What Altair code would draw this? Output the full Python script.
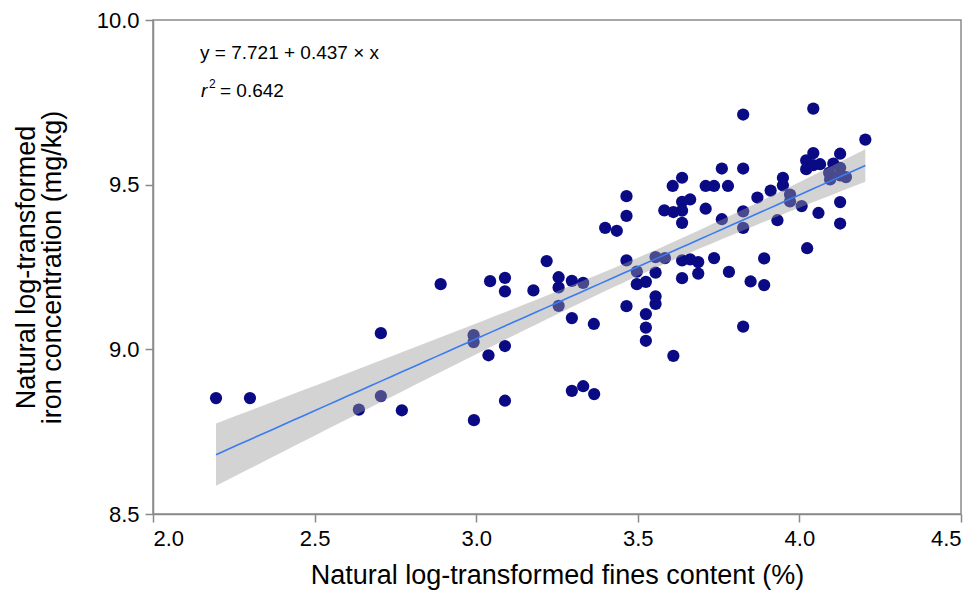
import numpy as np
import pandas as pd
import altair as alt

# Natural log-transformed fines content (%)
fines = [2.195, 2.300, 2.637, 2.705, 2.705, 2.770, 2.890, 2.992, 2.992, 2.993,
         3.038, 3.043, 3.089, 3.089, 3.089, 3.089, 3.177, 3.218, 3.255, 3.255,
         3.255, 3.296, 3.331, 3.296, 3.364, 3.296, 3.331, 3.365, 3.399, 3.435,
         3.465, 3.465, 3.465, 3.465, 3.497, 3.497, 3.525, 3.525, 3.525, 3.525,
         3.555, 3.584, 3.555, 3.555, 3.555, 3.610, 3.582, 3.610, 3.637, 3.662,
         3.637, 3.637, 3.608, 3.637, 3.710, 3.736, 3.779, 3.760, 3.710, 3.760,
         3.637, 3.662, 3.687, 3.736, 3.637, 3.687, 3.782, 3.826, 3.826, 3.826,
         3.826, 3.826, 3.849, 3.891, 3.891, 3.870, 3.911, 3.949, 3.949, 3.971,
         3.971, 4.007, 3.932, 4.059, 4.024, 4.043, 4.204, 4.043, 4.126, 4.021,
         4.021, 4.043, 4.064, 4.105, 4.092, 4.126, 4.095, 4.126, 4.144, 4.126,
         4.126]
# Natural log-transformed iron concentration (mg/kg)
iron = [8.852, 8.852, 8.817, 9.049, 8.858, 8.815, 9.198, 9.043, 9.022, 8.785,
        8.982, 9.207, 9.217, 9.176, 9.010, 8.844, 9.179, 9.268, 9.219, 9.188,
        9.132, 9.208, 9.202, 9.095, 9.077, 8.874, 8.888, 8.864, 9.369, 9.360,
        9.465, 9.405, 9.270, 9.131, 9.236, 9.198, 9.205, 9.107, 9.066, 9.026,
        9.280, 9.277, 9.233, 9.161, 9.138, 8.980, 9.422, 9.417, 9.448, 9.455,
        9.421, 9.384, 9.496, 9.521, 9.496, 9.496, 9.496, 9.549, 9.427, 9.395,
        9.270, 9.273, 9.265, 9.277, 9.216, 9.230, 9.235, 9.713, 9.549, 9.419,
        9.369, 9.069, 9.206, 9.276, 9.195, 9.461, 9.482, 9.521, 9.498, 9.470,
        9.449, 9.435, 9.392, 9.414, 9.307, 9.731, 9.637, 9.596, 9.594, 9.574,
        9.547, 9.559, 9.562, 9.564, 9.536, 9.551, 9.516, 9.528, 9.523, 9.447,
        9.382]

intercept = 7.721
slope = 0.437
r2_text = "= 0.642"
eq_text = "y = 7.721 + 0.437 \u00d7 x"

pts = pd.DataFrame({"x": fines, "y": iron})

# Regression line and 95% confidence band derived from the data
xa = np.array(fines)
ya = np.array(iron)
n = len(xa)
resid = ya - (intercept + slope * xa)
s = np.sqrt(np.sum(resid ** 2) / (n - 2))
xbar = xa.mean()
sxx = np.sum((xa - xbar) ** 2)
tval = 1.984
grid = np.linspace(xa.min(), xa.max(), 60)
fit = intercept + slope * grid
half = tval * s * np.sqrt(1.0 / n + (grid - xbar) ** 2 / sxx)
band = pd.DataFrame({"x": grid, "fit": fit, "lo": fit - half, "hi": fit + half})

xscale = alt.Scale(domain=[2.0, 4.5], nice=False, zero=False)
yscale = alt.Scale(domain=[8.5, 10.0], nice=False, zero=False)

xaxis = alt.Axis(values=[2.0, 2.5, 3.0, 3.5, 4.0, 4.5], format=".1f",
                 title="Natural log-transformed fines content (%)",
                 labelPadding=6, titlePadding=13)
yaxis = alt.Axis(values=[8.5, 9.0, 9.5, 10.0], format=".1f",
                 title=["Natural log-transformed", "iron concentration (mg/kg)"],
                 labelPadding=6, titlePadding=30)

points = alt.Chart(pts).mark_circle(size=150, color="#0a0a85", opacity=1).encode(
    x=alt.X("x:Q", scale=xscale, axis=xaxis),
    y=alt.Y("y:Q", scale=yscale, axis=yaxis),
)

band_layer = alt.Chart(band).mark_area(color="#9b9b9b", opacity=0.44).encode(
    x=alt.X("x:Q", scale=xscale),
    y=alt.Y("lo:Q", scale=yscale),
    y2="hi:Q",
)

line_layer = alt.Chart(band).mark_line(color="#3a7bf0", strokeWidth=1.6).encode(
    x=alt.X("x:Q", scale=xscale),
    y=alt.Y("fit:Q", scale=yscale),
)

font = "Liberation Sans"
eq = alt.Chart(pd.DataFrame({"t": [eq_text]})).mark_text(
    align="left", baseline="alphabetic", fontSize=19, font=font, color="black"
).encode(x=alt.value(47), y=alt.value(39), text="t:N")

r_mark = alt.Chart(pd.DataFrame({"t": ["r"]})).mark_text(
    align="left", baseline="alphabetic", fontSize=19, font=font, fontStyle="italic", color="black"
).encode(x=alt.value(48), y=alt.value(77), text="t:N")

sup = alt.Chart(pd.DataFrame({"t": ["2"]})).mark_text(
    align="left", baseline="alphabetic", fontSize=12, font=font, color="black"
).encode(x=alt.value(56), y=alt.value(68), text="t:N")

r2 = alt.Chart(pd.DataFrame({"t": [r2_text]})).mark_text(
    align="left", baseline="alphabetic", fontSize=19, font=font, color="black"
).encode(x=alt.value(67), y=alt.value(77), text="t:N")

chart = alt.layer(points, band_layer, line_layer, eq, r_mark, sup, r2).properties(
    width=808, height=494,
    autosize=alt.AutoSizeParams(type="none"),
    padding={"left": 153, "top": 20, "right": 19, "bottom": 80},
    background="white",
).configure_axis(
    labelFont=font, titleFont=font, labelFontSize=22, titleFontSize=27,
    labelColor="black", titleColor="black", titleFontWeight="normal",
    grid=False, domainColor="#8a8a8a", tickColor="#8a8a8a",
    domainWidth=1.5, tickWidth=1.5, tickSize=8, titleLineHeight=26,
).configure_view(stroke="#8a8a8a", strokeWidth=1.5)

chart.save("out.html", embed_options={"renderer": "svg", "actions": False})
